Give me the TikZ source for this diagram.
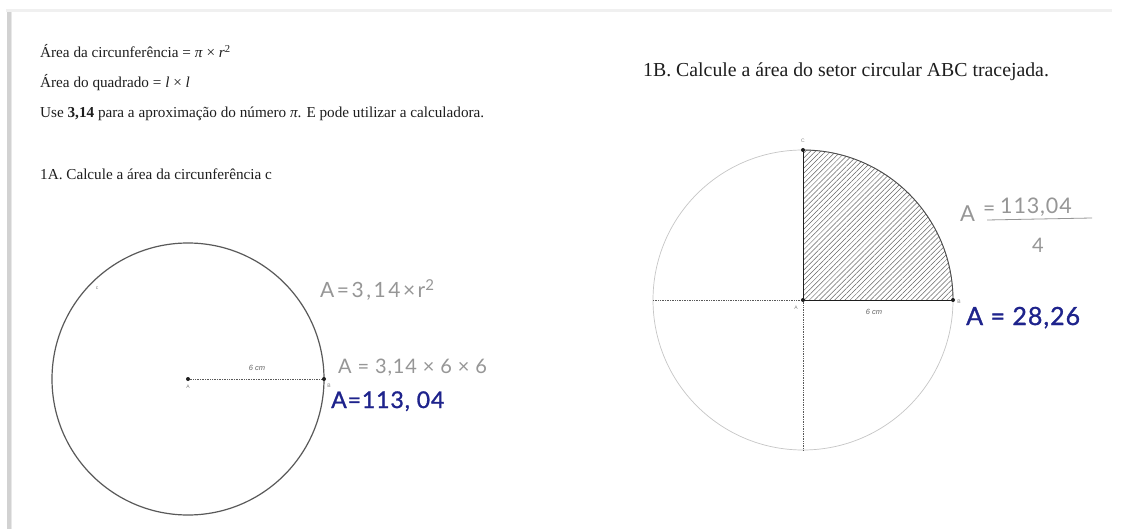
\documentclass[tikz,border=0pt]{standalone}
\usepackage{fontspec}
\setmainfont{Liberation Serif}
\newfontfamily\hand[LetterSpace=4]{Lato}
\newfontfamily\handwide[LetterSpace=12]{Lato}
\newfontfamily\pen[LetterSpace=4,FakeBold=1.2]{Lato}
\newfontfamily\lbl{Liberation Sans}
\usetikzlibrary{patterns.meta}
\definecolor{ink}{RGB}{30,30,30}
\definecolor{pencil}{RGB}{150,150,150}
\definecolor{penblue}{RGB}{30,35,140}
\begin{document}
\begin{tikzpicture}[x=1pt,y=-1pt,
  body/.style={anchor=base west, inner sep=0pt, font=\fontsize{15.2}{18}\selectfont, text=ink},
  head/.style={anchor=base west, inner sep=0pt, font=\fontsize{19.8}{22}\selectfont, text=ink},
  tiny/.style={inner sep=0pt, font=\lbl\fontsize{5}{6}\selectfont, text=gray},
  cmlbl/.style={inner sep=0pt, font=\lbl\itshape\fontsize{7.5}{9}\selectfont, text=gray!80!black},
  grey hand/.style={anchor=base west, inner sep=0pt, font=\hand\fontsize{20}{22}\selectfont, text=pencil},
  blue hand/.style={anchor=base west, inner sep=0pt, font=\pen\fontsize{23}{26}\selectfont, text=penblue},
  dot/.style={circle, fill=ink, inner sep=0pt, minimum size=4pt},
  dotline/.style={densely dotted, draw=gray!70!black, line width=0.7pt},
  bigcirc/.style={draw=gray!70!black, line width=1.2pt},
  faintcirc/.style={draw=gray!45, line width=0.7pt}]
\useasboundingbox (0,0) rectangle (1121,529);
\fill[white] (0,0) rectangle (1121,529);
% page shadow
\fill[gray!12] (6,9) rectangle (1112,12);
\fill[gray!35] (7,12) rectangle (11,529);
\fill[gray!18] (11,12) rectangle (12,529);

% statement text
\node[body] (t1) at (40,58) {Área da circunferência = \textit{π} × \textit{r}\textsuperscript{2}};
\node[body] (t2) at (40,88) {Área do quadrado = \textit{l} × \textit{l}};
\node[body] (t3) at (40,118) {Use \textbf{3,14} para a aproximação do número \textit{π}. E pode utilizar a calculadora.};
\node[body] (t4) at (40,180) {1A. Calcule a área da circunferência c};
\node[head] (t5) at (643,77) {1B. Calcule a área do setor circular ABC tracejada.};

% left circle
\coordinate (LA) at (188,379);
\coordinate (LB) at (324,379);
\draw[bigcirc] (LA) circle[radius=136pt];
\draw[dotline] (LA) -- (LB);
\node[dot] (LAd) at (LA) {};
\node[dot] (LBd) at (LB) {};
\node[tiny] (LAl) at (188,387) {A};
\node[tiny] (LBl) at (329,386) {B};
\node[tiny] (Lc) at (97,288) {c};
\node[cmlbl] (Lcm) at (257,368) {6 cm};

% handwriting left
\node[grey hand, font=\handwide\fontsize{21}{24}\selectfont] (h1) at (320,298) {A=3,14×r\raisebox{7pt}{\fontsize{15}{15}\selectfont 2}};
\node[grey hand] (h2) at (338,373) {A = 3,14 × 6 × 6};
\node[blue hand] (h3) at (331,408) {A=113, 04};

% right circle
\coordinate (RA) at (803,300);
\coordinate (RB) at (953,300);
\coordinate (RC) at (803,150);
\coordinate (RL) at (653,300);
\coordinate (RD) at (803,450);
\draw[faintcirc] (RA) circle[radius=150pt];
\fill[pattern={Lines[angle=45,distance=3.6pt,line width=0.5pt]}, pattern color=gray!80!black]
  (RA) -- (RB) arc[start angle=0, end angle=90, radius=150pt] -- cycle;
\draw[gray!60!black, line width=0.9pt] (RB) arc[start angle=0, end angle=90, radius=150pt];
\draw[ink, line width=0.9pt] (RA) -- (RB);
\draw[ink, line width=0.9pt] (RA) -- (RC);
\draw[dotline] (RL) -- (RA);
\draw[dotline] (RA) -- (RD);
\node[dot] (RAd) at (RA) {};
\node[dot] (RBd) at (RB) {};
\node[dot] (RCd) at (RC) {};
\node[tiny] (RAl) at (796,308) {A};
\node[tiny] (RBl) at (959,302) {B};
\node[tiny] (RCl) at (803,141) {C};
\node[cmlbl] (Rcm) at (874,312) {6 cm};

% handwriting right
\node[grey hand, font=\hand\fontsize{22}{24}\selectfont] (h4a) at (960,222) {A};
\node[grey hand, font=\hand\fontsize{21}{24}\selectfont] (h4b) at (983,216) {=};
\node[grey hand, font=\hand\fontsize{21.5}{24}\selectfont] (h4c) at (1000,214) {113,04};
\draw[pencil, line width=0.8pt] (987,220) -- (1092,218);
\node[grey hand] (h5) at (1032,253) {4};
\node[blue hand, font=\pen\fontsize{25}{28}\selectfont] (h6) at (966,325) {A = 28,26};
\end{tikzpicture}
\end{document}
